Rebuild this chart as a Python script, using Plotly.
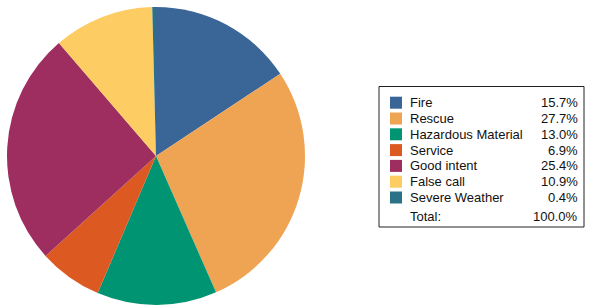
import plotly.graph_objects as go

categories = ["Fire", "Rescue", "Hazardous Material", "Service", "Good intent", "False call", "Severe Weather"]
values = [15.7, 27.7, 13.0, 6.9, 25.4, 10.9, 0.4]
colors = ["#3A6597", "#EFA453", "#009473", "#DC5A21", "#9E2D60", "#FDCC62", "#2A7287"]
total_label = "Total:"

W, H = 589, 306

def px(x):
    return x / W

def py(y):
    return 1 - y / H

fig = go.Figure(go.Pie(
    labels=categories,
    values=values,
    marker=dict(colors=colors, line=dict(width=0)),
    sort=False,
    direction="clockwise",
    rotation=0,
    textinfo="none",
    hoverinfo="label+percent",
    domain=dict(x=[px(6), px(306)], y=[py(305), py(7)]),
))

shapes = []
annotations = []
# legend box
shapes.append(dict(type="rect", xref="paper", yref="paper",
                   x0=px(379), x1=px(584), y0=py(227), y1=py(86.5),
                   line=dict(color="#222222", width=1), fillcolor="white"))
font = dict(family="Liberation Sans, Arial, sans-serif", size=13, color="#111111")
row0 = 102.7
step = 15.8
for i, (cat, val, col) in enumerate(zip(categories, values, colors)):
    yc = row0 + i * step
    shapes.append(dict(type="rect", xref="paper", yref="paper",
                       x0=px(390), x1=px(402), y0=py(yc + 6), y1=py(yc - 6),
                       line=dict(width=0), fillcolor=col))
    annotations.append(dict(xref="paper", yref="paper", x=px(408), y=py(yc),
                            text=cat, showarrow=False, xanchor="left", yanchor="middle", font=font))
    annotations.append(dict(xref="paper", yref="paper", x=px(580), y=py(yc),
                            text=f"{val:.1f}%", showarrow=False, xanchor="right", yanchor="middle", font=font))
ytot = 216
annotations.append(dict(xref="paper", yref="paper", x=px(408), y=py(ytot),
                        text=total_label, showarrow=False, xanchor="left", yanchor="middle", font=font))
annotations.append(dict(xref="paper", yref="paper", x=px(580), y=py(ytot),
                        text=f"{sum(values):.1f}%", showarrow=False, xanchor="right", yanchor="middle", font=font))

fig.update_layout(
    width=W, height=H,
    margin=dict(l=0, r=0, t=0, b=0),
    paper_bgcolor="white", plot_bgcolor="white",
    showlegend=False,
    shapes=shapes,
    annotations=annotations,
)

fig.write_html("out.html", config={"displayModeBar": False},
               post_script="document.body.style.margin='0';document.body.style.overflow='hidden';")
